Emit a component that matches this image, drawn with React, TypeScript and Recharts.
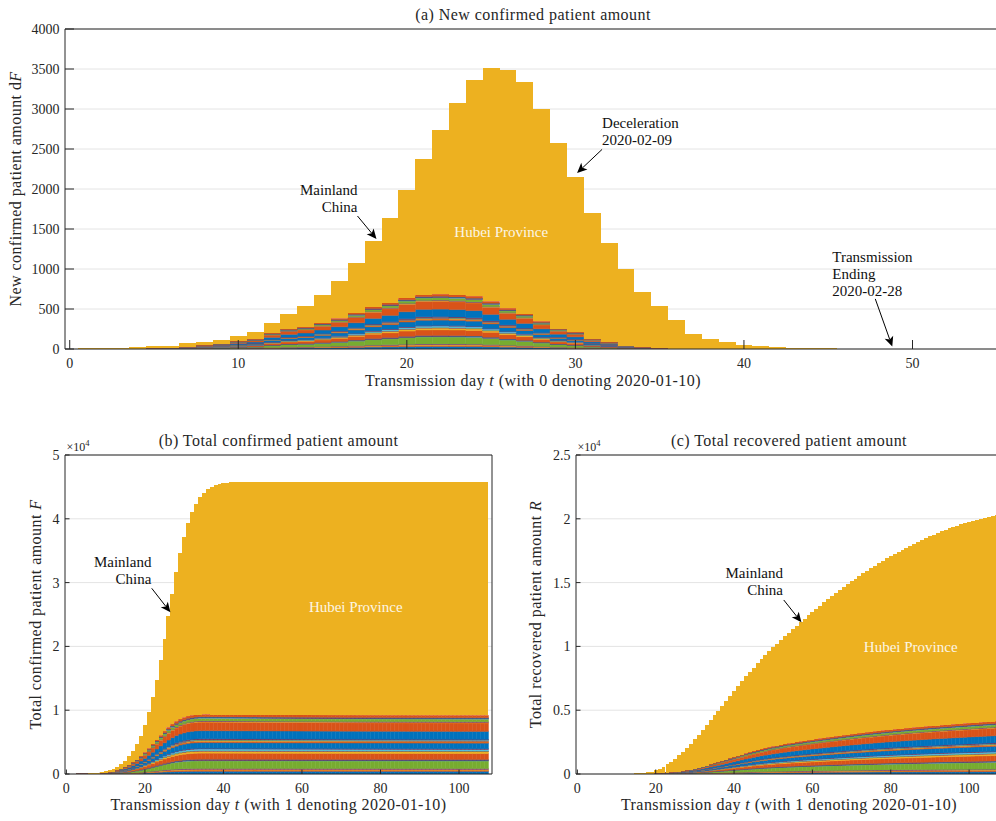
import type { ReactNode } from 'react'
import { Bar, BarChart, CartesianGrid, ReferenceDot, XAxis, YAxis } from 'recharts'

const PROVINCE_COLORS = ['#0072BD', '#D95319', '#EDB120', '#7E2F8E', '#77AC30', '#4DBEEE', '#A2142F']
const HUBEI_COLOR = '#EDB120'
const INK = '#262626'
const FONT = '"Liberation Serif", "Times New Roman", serif'

// relative band thickness of the 30 other provinces, bottom of the stack first
const provinceShares = [7, 3, 2, 2, 20, 1, 1, 1.5, 16, 5, 1, 1, 4, 1, 15, 3, 2, 1, 1, 1, 1.5, 21, 22, 1.5, 1.5, 7, 1, 1, 1.5, 6]

// (a) daily new confirmed, days 0..55: whole mainland (top of stack) and provinces outside Hubei
const mainlandNew = [
  5, 8, 8, 12, 21, 33, 42, 71, 88, 117,
  163, 213, 322, 439, 539, 677, 848, 1069, 1345, 1637,
  1992, 2372, 2740, 3074, 3358, 3517, 3490, 3335, 2996, 2573,
  2145, 1695, 1324, 994, 709, 535, 368, 192, 122, 84,
  54, 38, 25, 17, 12, 8, 6, 5, 4, 3,
  2, 2, 1, 1, 1, 1,
]
const othersNew = [
  0, 0, 1, 2, 5, 10, 15, 25, 45, 65,
  96, 120, 200, 252, 275, 326, 382, 451, 526, 578,
  640, 681, 685, 677, 660, 595, 510, 440, 346, 255,
  209, 125, 84, 42, 21, 8, 3, 1, 1, 0,
  0, 0, 0, 0, 0, 0, 0, 0, 0, 0,
  0, 0, 0, 0, 0, 0,
]

// (b) total confirmed, days 1..107
const mainlandConfirmed = [
  5, 13, 21, 33, 54, 87, 129, 200, 288, 405,
  568, 781, 1103, 1542, 2081, 2758, 3606, 4675, 6020, 7660,
  9640, 12030, 14800, 17850, 21220, 24750, 28260, 31600, 34620, 37180,
  39280, 41060, 42380, 43340, 44060, 44620, 45020, 45280, 45460, 45590,
  45670, 45720, 45750, 45770, 45780, 45790, 45800, 45800, 45800, 45800,
  45800, 45800, 45800, 45800, 45800, 45800, 45800, 45800, 45800, 45800,
  45800, 45800, 45800, 45800, 45800, 45800, 45800, 45800, 45800, 45800,
  45800, 45800, 45800, 45800, 45800, 45800, 45800, 45800, 45800, 45800,
  45800, 45800, 45800, 45800, 45800, 45800, 45800, 45800, 45800, 45800,
  45800, 45800, 45800, 45800, 45800, 45800, 45800, 45800, 45800, 45800,
  45800, 45800, 45800, 45800, 45800, 45800, 45800,
]
const othersConfirmed = [
  0, 0, 1, 3, 8, 18, 33, 58, 103, 168,
  264, 384, 584, 836, 1111, 1437, 1819, 2270, 2796, 3374,
  4014, 4695, 5380, 6057, 6717, 7312, 7822, 8262, 8608, 8863,
  9072, 9197, 9281, 9323, 9330, 9330, 9325, 9320, 9320, 9315,
  9310, 9310, 9305, 9300, 9300, 9295, 9290, 9290, 9285, 9280,
  9280, 9275, 9270, 9270, 9265, 9260, 9260, 9255, 9250, 9250,
  9245, 9245, 9240, 9240, 9235, 9235, 9230, 9230, 9225, 9225,
  9220, 9220, 9220, 9215, 9215, 9215, 9210, 9210, 9210, 9205,
  9205, 9205, 9200, 9200, 9200, 9200, 9195, 9195, 9195, 9195,
  9190, 9190, 9190, 9190, 9185, 9185, 9185, 9185, 9180, 9180,
  9180, 9180, 9180, 9175, 9175, 9175, 9175,
]

// (c) total recovered, days 1..107
const mainlandRecovered = [
  0, 0, 0, 0, 0, 1, 2, 3, 5, 8,
  12, 18, 26, 36, 50, 68, 92, 130, 190, 280,
  420, 580, 765, 975, 1210, 1470, 1755, 2060, 2385, 2725,
  3080, 3445, 3820, 4200, 4585, 4970, 5362, 5754, 6144, 6530,
  6910, 7282, 7646, 8001, 8346, 8681, 9006, 9321, 9626, 9922,
  10212, 10499, 10783, 11064, 11342, 11617, 11889, 12158, 12424, 12687,
  12946, 13201, 13452, 13699, 13942, 14182, 14418, 14650, 14878, 15100,
  15318, 15531, 15740, 15944, 16144, 16339, 16530, 16716, 16898, 17075,
  17248, 17416, 17580, 17739, 17894, 18049, 18200, 18346, 18488, 18625,
  18758, 18886, 19010, 19129, 19244, 19354, 19460, 19561, 19658, 19750,
  19838, 19921, 20000, 20075, 20148, 20219, 20288,
]
const othersRecovered = [
  0, 0, 0, 0, 0, 0, 0, 0, 0, 0,
  0, 0, 0, 0, 3, 6, 11, 18, 30, 45,
  62, 82, 105, 132, 160, 190, 230, 280, 340, 410,
  488, 575, 665, 757, 850, 943, 1038, 1133, 1228, 1325,
  1422, 1518, 1613, 1705, 1794, 1879, 1959, 2034, 2104, 2170,
  2233, 2293, 2350, 2405, 2457, 2507, 2556, 2604, 2651, 2697,
  2742, 2787, 2831, 2875, 2918, 2960, 3002, 3043, 3083, 3123,
  3162, 3200, 3237, 3273, 3309, 3344, 3378, 3411, 3443, 3474,
  3504, 3534, 3563, 3592, 3620, 3647, 3674, 3700, 3726, 3751,
  3776, 3800, 3824, 3847, 3870, 3893, 3915, 3937, 3959, 3981,
  4002, 4023, 4044, 4065, 4086, 4107, 4128,
]

const newTicksX = [0, 10, 20, 30, 40, 50]
const newTicksY = [0, 500, 1000, 1500, 2000, 2500, 3000, 3500, 4000]
const totalTicksX = [0, 20, 40, 60, 80, 100]
const confirmedTicksY = [0, 10000, 20000, 30000, 40000, 50000]
const recoveredTicksY = [0, 5000, 10000, 15000, 20000, 25000]

const shareSum = provinceShares.reduce((s, v) => s + v, 0)
const seriesKeys = provinceShares.map((_, k) => `p${k}`)

function buildRows(firstDay: number, mainland: number[], others: number[]) {
  return mainland.map((total, i) => {
    const row: Record<string, number> = { day: firstDay + i, hubei: total - others[i] }
    provinceShares.forEach((w, k) => {
      row[`p${k}`] = (others[i] * w) / shareSum
    })
    return row
  })
}

const newRows = buildRows(0, mainlandNew, othersNew)
const confirmedRows = buildRows(1, mainlandConfirmed, othersConfirmed)
const recoveredRows = buildRows(1, mainlandRecovered, othersRecovered)

const labelStyle = { fontFamily: FONT, fontSize: 16, letterSpacing: '0.45px', fill: INK }
const noteStyle = { fontFamily: FONT, fontSize: 15, fill: '#111' }

function arrowNote(lines: string[], tail: [number, number], textAt: [number, number], anchor: 'start' | 'end') {
  return (p: any) => {
    const { cx, cy } = p
    const [dx, dy] = tail
    const len = Math.hypot(dx, dy)
    const ux = dx / len
    const uy = dy / len
    const nx = -uy
    const ny = ux
    const head = 10
    const half = 4.5
    const back = 7.5
    const pts = [
      [cx, cy],
      [cx + ux * head + nx * half, cy + uy * head + ny * half],
      [cx + ux * back, cy + uy * back],
      [cx + ux * head - nx * half, cy + uy * head - ny * half],
    ]
      .map((q) => q.join(','))
      .join(' ')
    const tx = cx + textAt[0]
    return (
      <g>
        <line x1={cx + ux * back} y1={cy + uy * back} x2={cx + dx} y2={cy + dy} stroke="#000" strokeWidth={1} />
        <polygon points={pts} fill="#000" />
        <text x={tx} y={cy + textAt[1]} textAnchor={anchor} style={noteStyle}>
          {lines.map((l, i) => (
            <tspan key={l} x={tx} dy={i === 0 ? 0 : 17}>
              {l}
            </tspan>
          ))}
        </text>
      </g>
    )
  }
}

const hubeiNote = (p: any) => (
  <text x={p.cx} y={p.cy} textAnchor="middle" dominantBaseline="central" style={{ ...noteStyle, fill: '#fcf6e6' }}>
    Hubei Province
  </text>
)

type Note = { x: number; y: number; shape: (p: any) => ReactNode }

type PanelProps = {
  rows: Record<string, number>[]
  width: number
  height: number
  margin: { top: number; right: number; bottom: number; left: number }
  yAxisWidth: number
  xDomain: [number, number]
  xTicks: number[]
  yDomain: [number, number]
  yTicks: number[]
  tickLen: number
  yFormat?: (v: number) => string
  title: string
  multiplier?: boolean
  xLabel: ReactNode
  xLabelDy: number
  yLabel: ReactNode
  yLabelX: number
  notes: Note[]
}

function Panel(props: PanelProps) {
  const { rows, width, height, margin, yAxisWidth, xDomain, xTicks, yDomain, yTicks, tickLen, yFormat } = props
  const tickFont = { fill: INK, fontSize: 14, fontFamily: FONT }
  const line = { stroke: INK, strokeWidth: 1 }
  // one day fills its whole slot (recharts shrinks bars that are wider than the slot)
  const plotWidth = width - margin.left - margin.right - yAxisWidth - 1
  const daySize = plotWidth / (xDomain[1] - xDomain[0]) - 0.01

  const titleLabel = (p: any) => {
    const vb = p.viewBox
    const top = vb.y + vb.height
    return (
      <g>
        <text x={vb.x + vb.width / 2} y={top - 9} textAnchor="middle" style={labelStyle}>
          {props.title}
        </text>
        {props.multiplier && (
          <text x={vb.x + 1.5} y={top - 4.5} style={{ fontFamily: FONT, fontSize: 12, fill: INK }}>
            ×10
            <tspan fontSize={8.5} dy={-4.5}>
              4
            </tspan>
          </text>
        )}
      </g>
    )
  }
  const xLabel = (p: any) => {
    const vb = p.viewBox
    return (
      <text x={vb.x + vb.width / 2} y={vb.y + props.xLabelDy} textAnchor="middle" style={labelStyle}>
        {props.xLabel}
      </text>
    )
  }
  const yLabel = (p: any) => {
    const vb = p.viewBox
    const cy = vb.y + vb.height / 2
    const x = props.yLabelX
    return (
      <text x={x} y={cy} transform={`rotate(-90, ${x}, ${cy})`} textAnchor="middle" style={labelStyle}>
        {props.yLabel}
      </text>
    )
  }

  return (
    <BarChart
      width={width}
      height={height}
      data={rows}
      margin={margin}
      barCategoryGap={0}
      barGap={0}
      barSize={daySize}
    >
      <CartesianGrid vertical={false} stroke="#e4e4e4" />
      <XAxis
        dataKey="day"
        type="number"
        domain={xDomain}
        ticks={xTicks}
        allowDataOverflow
        interval={0}
        height={30}
        tickSize={-tickLen}
        tickMargin={tickLen + 9}
        tick={tickFont}
        tickLine={line}
        axisLine={line}
        label={xLabel}
      />
      <XAxis
        xAxisId="top"
        dataKey="day"
        orientation="top"
        type="number"
        domain={xDomain}
        ticks={xTicks}
        allowDataOverflow
        interval={0}
        height={1}
        tick={false}
        tickSize={-tickLen}
        tickLine={line}
        axisLine={line}
        label={titleLabel}
      />
      <YAxis
        type="number"
        domain={yDomain}
        ticks={yTicks}
        allowDataOverflow
        interval={0}
        width={yAxisWidth}
        tickSize={-tickLen}
        tickMargin={tickLen + 5.5}
        tickFormatter={yFormat}
        tick={tickFont}
        tickLine={line}
        axisLine={line}
        label={yLabel}
      />
      <YAxis
        yAxisId="right"
        orientation="right"
        type="number"
        domain={yDomain}
        ticks={yTicks}
        allowDataOverflow
        interval={0}
        width={1}
        tick={false}
        tickSize={-tickLen}
        tickLine={line}
        axisLine={line}
      />
      {seriesKeys.map((key, k) => {
        const c = PROVINCE_COLORS[k % PROVINCE_COLORS.length]
        return (
          <Bar key={key} dataKey={key} stackId="all" fill={c} stroke={c} strokeWidth={0.5} isAnimationActive={false} />
        )
      })}
      <Bar dataKey="hubei" stackId="all" fill={HUBEI_COLOR} shapeRendering="crispEdges" isAnimationActive={false} />
      {props.notes.map((n, i) => (
        <ReferenceDot key={i} x={n.x} y={n.y} r={0} ifOverflow="visible" shape={n.shape as any} />
      ))}
    </BarChart>
  )
}

const tenThousands = (v: number) => String(v / 10000)

export default function App() {
  return (
    <div
      style={{ position: 'absolute', left: 0, top: 0, width: 996, height: 821, overflow: 'hidden', background: '#fff' }}
    >
      <div style={{ position: 'absolute', left: 0, top: 0 }}>
        <Panel
          rows={newRows}
          width={1010}
          height={400}
          margin={{ top: 28, right: 8, bottom: 21, left: 0 }}
          yAxisWidth={65}
          xDomain={[-0.28, 55.25]}
          xTicks={newTicksX}
          yDomain={[0, 4000]}
          yTicks={newTicksY}
          tickLen={9}
          title="(a) New confirmed patient amount"
          xLabel={
            <>
              Transmission day <tspan fontStyle="italic">t</tspan> (with 0 denoting 2020-01-10)
            </>
          }
          xLabelDy={37}
          yLabel={
            <>
              New confirmed patient amount d<tspan fontStyle="italic">F</tspan>
            </>
          }
          yLabelX={20.5}
          notes={[
            { x: 18.2, y: 1375, shape: arrowNote(['Mainland', 'China'], [-19, -23], [-19, -44.5], 'end') },
            { x: 30.1, y: 2200, shape: arrowNote(['Deceleration', '2020-02-09'], [25, -23.6], [25, -45.3], 'start') },
            {
              x: 48.8,
              y: 30,
              shape: arrowNote(['Transmission', 'Ending', '2020-02-28'], [-17, -47.7], [-60, -85], 'start'),
            },
            { x: 25.6, y: 1466, shape: hubeiNote },
          ]}
        />
      </div>
      <div style={{ position: 'absolute', left: 0, top: 400 }}>
        <Panel
          rows={confirmedRows}
          width={500}
          height={421}
          margin={{ top: 54, right: 7, bottom: 17, left: 0 }}
          yAxisWidth={65}
          xDomain={[-0.35, 108.4]}
          xTicks={totalTicksX}
          yDomain={[0, 50000]}
          yTicks={confirmedTicksY}
          tickLen={4.5}
          yFormat={tenThousands}
          title="(b) Total confirmed patient amount"
          multiplier
          xLabel={
            <>
              Transmission day <tspan fontStyle="italic">t</tspan> (with 1 denoting 2020-01-10)
            </>
          }
          xLabelDy={36}
          yLabel={
            <>
              Total confirmed patient amount <tspan fontStyle="italic">F</tspan>
            </>
          }
          yLabelX={40.5}
          notes={[
            { x: 26.5, y: 25345, shape: arrowNote(['Mainland', 'China'], [-18.7, -24], [-19, -45.6], 'end') },
            { x: 73.7, y: 26130, shape: hubeiNote },
          ]}
        />
      </div>
      <div style={{ position: 'absolute', left: 500, top: 400 }}>
        <Panel
          rows={recoveredRows}
          width={510}
          height={421}
          margin={{ top: 54, right: 7, bottom: 17, left: 0 }}
          yAxisWidth={76}
          xDomain={[-0.35, 108.4]}
          xTicks={totalTicksX}
          yDomain={[0, 25000]}
          yTicks={recoveredTicksY}
          tickLen={4.5}
          yFormat={tenThousands}
          title="(c) Total recovered patient amount"
          multiplier
          xLabel={
            <>
              Transmission day <tspan fontStyle="italic">t</tspan> (with 1 denoting 2020-01-10)
            </>
          }
          xLabelDy={36}
          yLabel={
            <>
              Total recovered patient amount <tspan fontStyle="italic">R</tspan>
            </>
          }
          yLabelX={40.5}
          notes={[
            { x: 57.2, y: 11890, shape: arrowNote(['Mainland', 'China'], [-17.7, -22.3], [-18.4, -44], 'end') },
            { x: 85.1, y: 9976, shape: hubeiNote },
          ]}
        />
      </div>
    </div>
  )
}
